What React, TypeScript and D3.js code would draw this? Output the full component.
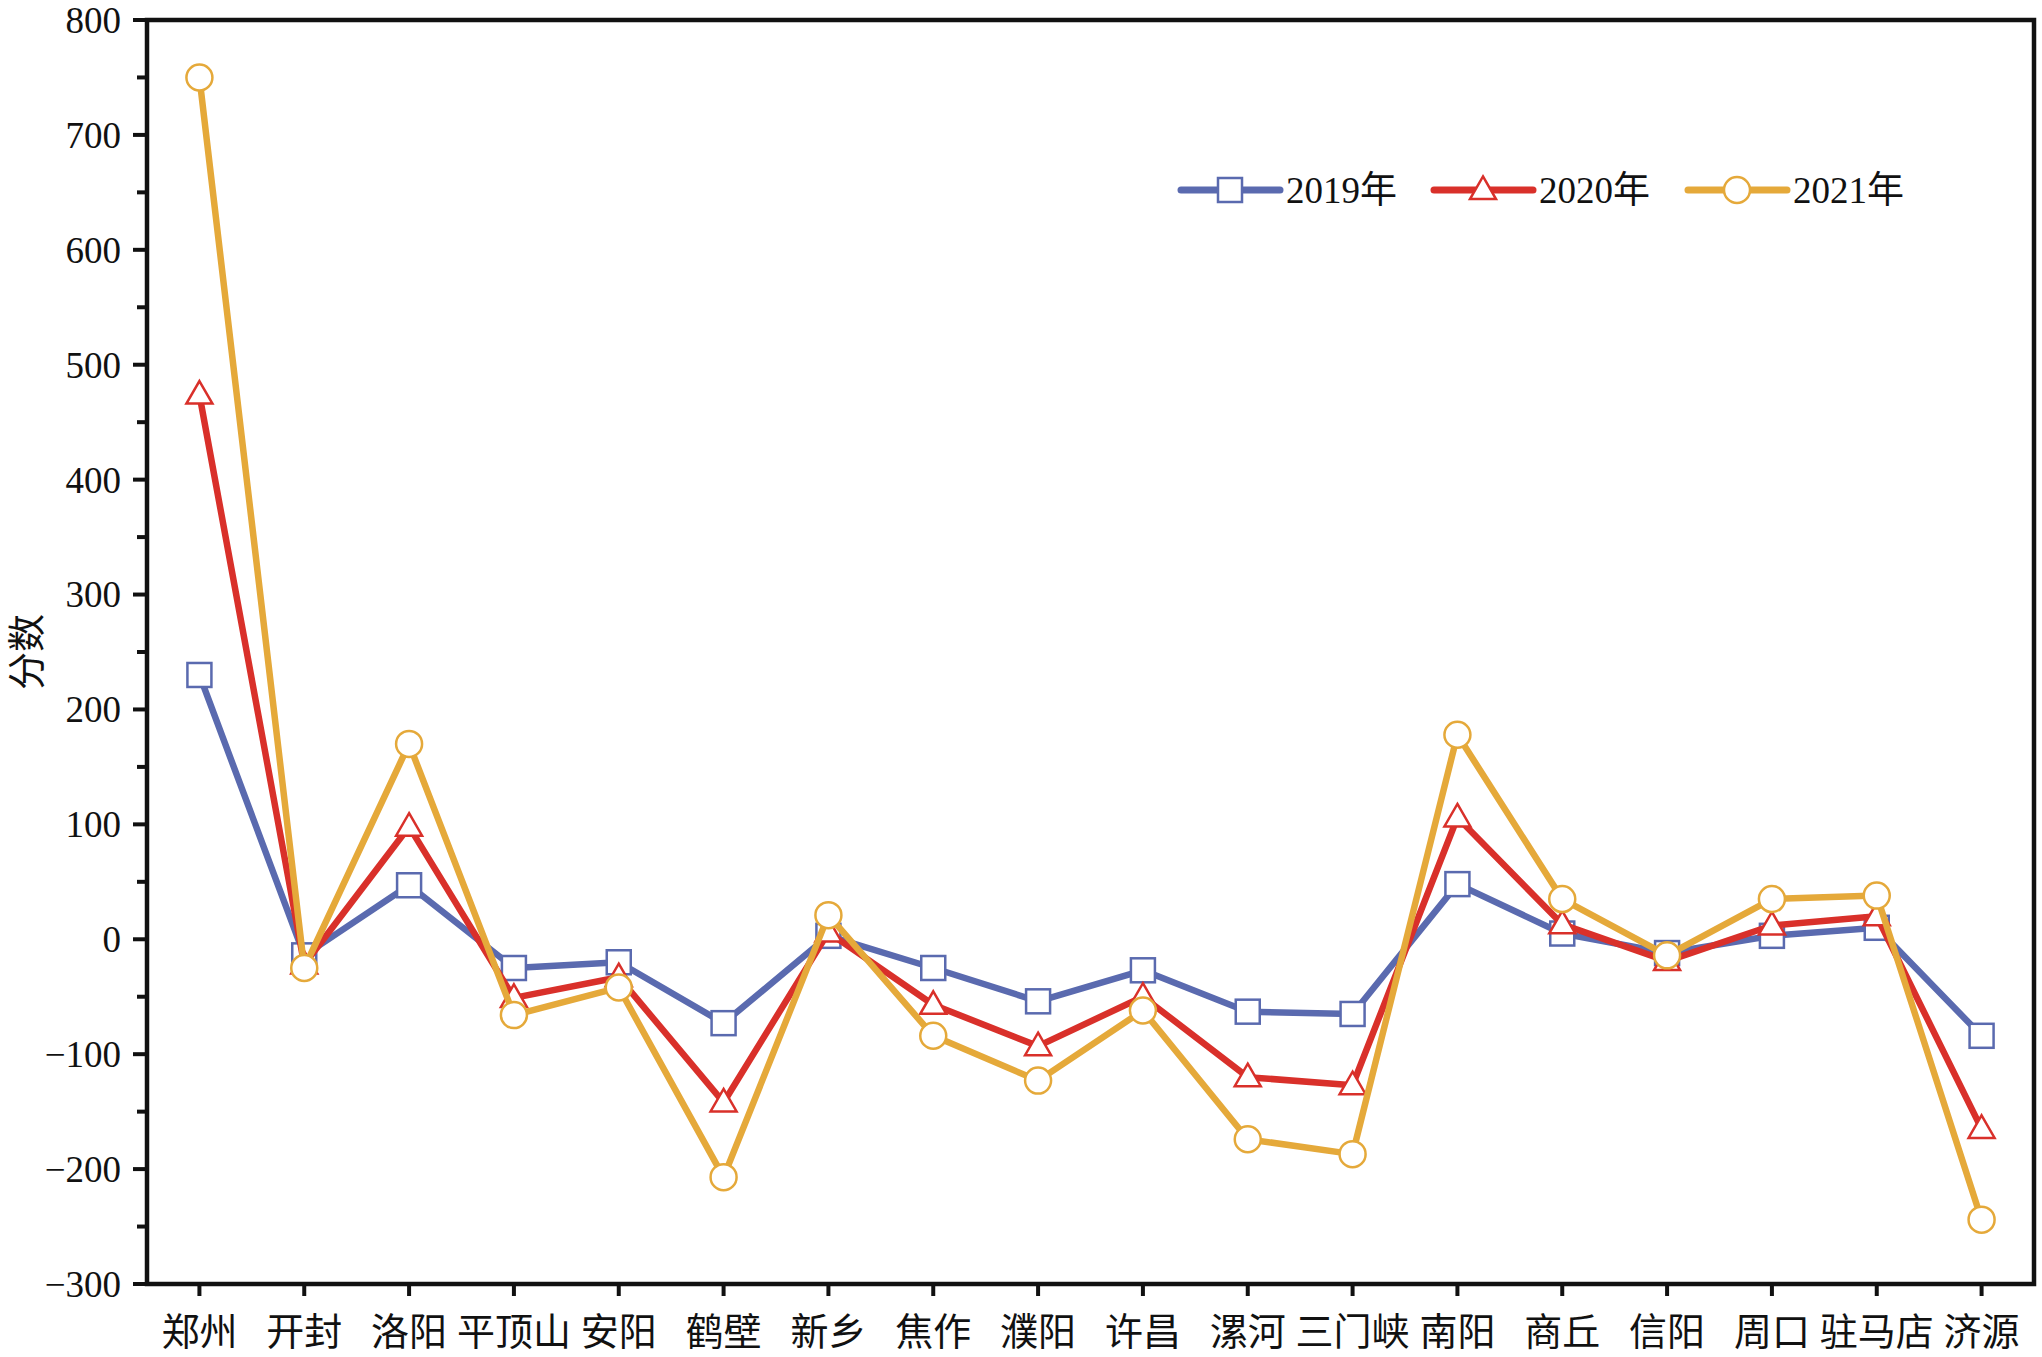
import { useEffect, useRef } from 'react';
import * as d3 from 'd3';

const cities = ['郑州', '开封', '洛阳', '平顶山', '安阳', '鹤壁', '新乡', '焦作', '濮阳', '许昌', '漯河', '三门峡', '南阳', '商丘', '信阳', '周口', '驻马店', '济源'];
const v2019 = [230, -14, 47, -25, -20, -73, 3, -25, -54, -27, -63, -65, 48, 5, -12, 3, 10, -84];
const v2020 = [474, -22, 98, -51, -33, -142, 6, -57, -93, -50, -120, -127, 106, 13, -19, 12, 20, -165];
const v2021 = [750, -25, 170, -66, -42, -207, 21, -84, -123, -62, -174, -187, 178, 35, -14, 35, 38, -244];
const seriesNames = ['2019年', '2020年', '2021年'];
const yTicks = [-300, -200, -100, 0, 100, 200, 300, 400, 500, 600, 700, 800];

const W = 2042;
const H = 1357;
const FONT = '"Liberation Serif", "Times New Roman", "Noto Sans CJK SC", serif';

export default function App() {
  const svgRef = useRef<SVGSVGElement>(null);

  useEffect(() => {
    if (!svgRef.current) return;
    const svg = d3.select(svgRef.current);
    svg.selectAll('*').remove();

    const left = 147, right = 2034, top = 20, bottom = 1284;

    const x = d3.scalePoint<string>().domain(cities).range([left, right]).padding(0.5);
    const y = d3.scaleLinear().domain([-300, 800]).range([bottom, top]);

    const series = [
      { name: seriesNames[0], values: v2019, color: '#5A6AAF', shape: 'square' },
      { name: seriesNames[1], values: v2020, color: '#D9302A', shape: 'triangle' },
      { name: seriesNames[2], values: v2021, color: '#E5A93A', shape: 'circle' },
    ];

    // frame
    svg.append('rect')
      .attr('x', left).attr('y', top)
      .attr('width', right - left).attr('height', bottom - top)
      .attr('fill', 'none').attr('stroke', '#111').attr('stroke-width', 4.5);

    // y ticks
    const g = svg.append('g');
    g.selectAll('.ymajor').data(yTicks).enter().append('line')
      .attr('x1', left - 14).attr('x2', left)
      .attr('y1', d => y(d)).attr('y2', d => y(d))
      .attr('stroke', '#111').attr('stroke-width', 4);
    g.selectAll('.yminor').data(yTicks.slice(0, -1).map(d => d + 50)).enter().append('line')
      .attr('x1', left - 10).attr('x2', left)
      .attr('y1', d => y(d)).attr('y2', d => y(d))
      .attr('stroke', '#111').attr('stroke-width', 4);
    g.selectAll('.ylab').data(yTicks).enter().append('text')
      .attr('x', left - 26).attr('y', d => y(d))
      .attr('dy', '0.35em')
      .attr('text-anchor', 'end')
      .attr('font-family', FONT).attr('font-size', 37)
      .attr('fill', '#111')
      .text(d => (d < 0 ? '\u2212' + Math.abs(d) : String(d)));

    // x ticks
    g.selectAll('.xtick').data(cities).enter().append('line')
      .attr('x1', d => x(d)!).attr('x2', d => x(d)!)
      .attr('y1', bottom).attr('y2', bottom + 12)
      .attr('stroke', '#111').attr('stroke-width', 4);
    g.selectAll('.xlab').data(cities).enter().append('text')
      .attr('x', d => x(d)!).attr('y', bottom + 48)
      .attr('dy', '0.35em')
      .attr('text-anchor', 'middle')
      .attr('font-family', FONT).attr('font-size', 38)
      .attr('fill', '#111')
      .text(d => d);

    // y title
    svg.append('text')
      .attr('transform', `translate(27, ${(top + bottom) / 2}) rotate(-90)`)
      .attr('text-anchor', 'middle')
      .attr('dy', '0.35em')
      .attr('font-family', FONT).attr('font-size', 38)
      .attr('fill', '#111')
      .text('分数');

    const drawMarker = (sel: d3.Selection<SVGGElement, unknown, null, undefined>, shape: string, cx: number, cy: number, color: string) => {
      if (shape === 'square') {
        sel.append('rect')
          .attr('x', cx - 12).attr('y', cy - 12).attr('width', 24).attr('height', 24)
          .attr('fill', '#fff').attr('stroke', color).attr('stroke-width', 2.5);
      } else if (shape === 'triangle') {
        const s = 26;
        const h = s * Math.sqrt(3) / 2;
        sel.append('path')
          .attr('d', `M${cx},${cy - h * 0.6}L${cx + s / 2},${cy + h * 0.4}L${cx - s / 2},${cy + h * 0.4}Z`)
          .attr('fill', '#fff').attr('stroke', color).attr('stroke-width', 2.5);
      } else {
        sel.append('circle')
          .attr('cx', cx).attr('cy', cy).attr('r', 13)
          .attr('fill', '#fff').attr('stroke', color).attr('stroke-width', 2.5);
      }
    };

    const line = d3.line<number>()
      .x((_, i) => x(cities[i])!)
      .y(d => y(d));

    series.forEach(s => {
      const sg = svg.append('g');
      sg.append('path')
        .attr('d', line(s.values))
        .attr('fill', 'none')
        .attr('stroke', s.color)
        .attr('stroke-width', 6.5)
        .attr('stroke-linejoin', 'round');
      s.values.forEach((v, i) => drawMarker(sg as any, s.shape, x(cities[i])!, y(v), s.color));
    });

    // legend
    const legendX = [1181, 1434, 1688];
    const legendY = 190;
    series.forEach((s, i) => {
      const lg = svg.append('g');
      lg.append('line')
        .attr('x1', legendX[i]).attr('x2', legendX[i] + 99)
        .attr('y1', legendY).attr('y2', legendY)
        .attr('stroke', s.color).attr('stroke-width', 7).attr('stroke-linecap', 'round');
      drawMarker(lg as any, s.shape, legendX[i] + 49, legendY, s.color);
      lg.append('text')
        .attr('x', legendX[i] + 105).attr('y', legendY)
        .attr('dy', '0.35em')
        .attr('font-family', FONT).attr('font-size', 37)
        .attr('fill', '#111')
        .text(s.name);
    });
  }, []);

  return (
    <svg
      ref={svgRef}
      width={W}
      height={H}
      style={{ position: 'absolute', left: 0, top: 0, background: '#fff' }}
    />
  );
}
